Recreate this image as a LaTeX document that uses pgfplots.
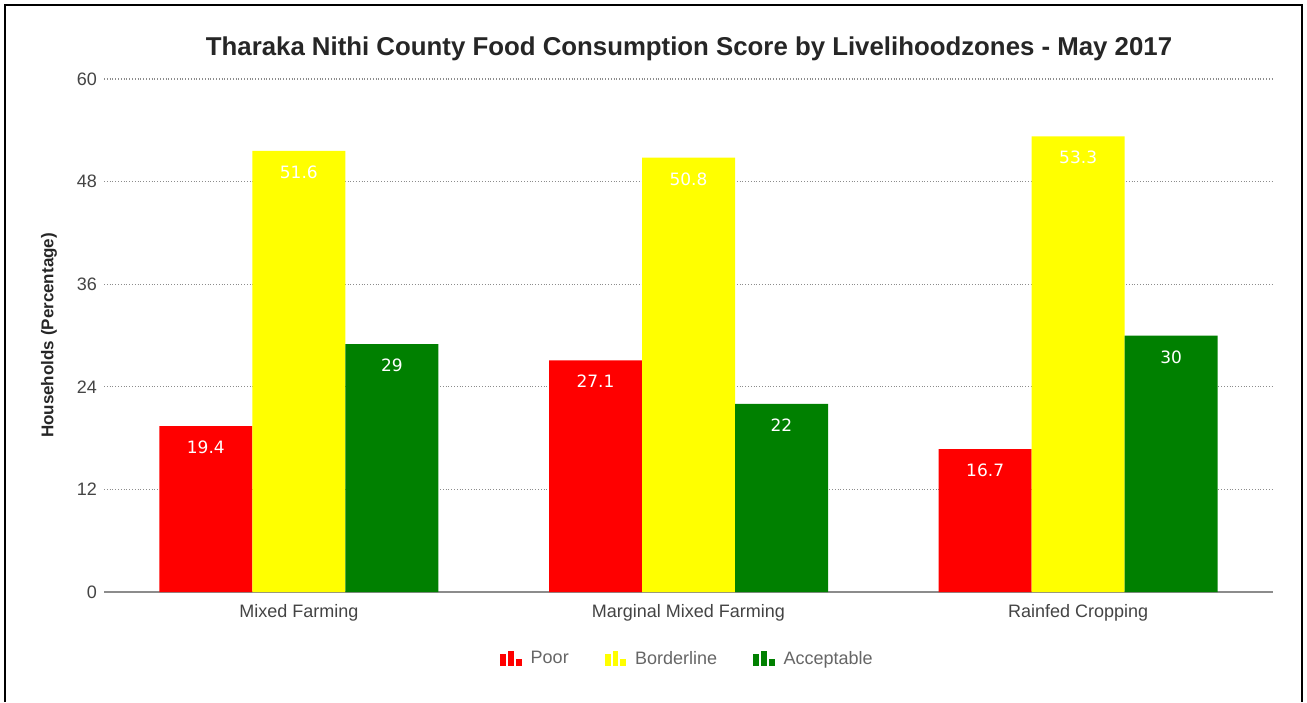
\documentclass[border=0pt]{standalone}
\usepackage{pgfplots}
\pgfplotsset{compat=1.18}
\usepackage{fontspec}
\setmainfont{Liberation Sans}
\newfontfamily\valfont{DejaVu Sans}
\definecolor{poorc}{HTML}{FF0000}
\definecolor{bordc}{HTML}{FFFF00}
\definecolor{accc}{HTML}{008000}
\definecolor{txtc}{HTML}{444444}
\definecolor{legc}{HTML}{666666}
\begin{document}
\begin{tikzpicture}
\useasboundingbox (0,0) rectangle (653.5pt,351pt);
\fill[white] (0,0) rectangle (653.5pt,351pt);
\draw[black, line width=1pt] (2.5pt,0) -- (2.5pt,348.5pt) -- (651pt,348.5pt) -- (651pt,0);
\node[font=\fontsize{12.9}{14}\selectfont\bfseries, text=black!85] at (344.5pt,326.5pt) {Tharaka Nithi County Food Consumption Score by Livelihoodzones - May 2017};
\begin{axis}[
  at={(52pt,55pt)}, anchor=south west,
  scale only axis, width=584.5pt, height=256.5pt,
  xmin=-0.5, xmax=2.5, ymin=0, ymax=60,
  enlarge x limits=false, enlarge y limits=false,
  ybar=0pt, bar width=46.5pt,
  xtick={0,1,2},
  xticklabels={Mixed Farming, Marginal Mixed Farming, Rainfed Cropping},
  ytick={0,12,24,36,48,60},
  major tick length=0pt,
  axis x line*=bottom, axis y line*=left,
  x axis line style={draw=black!45, line width=0.6pt, -},
  y axis line style={draw=none},
  ymajorgrids, grid style={densely dotted, black!45, line width=0.6pt},
  tick label style={font=\fontsize{9}{10}\selectfont, text=txtc},
  xticklabel style={yshift=-2.5pt},
  /pgf/number format/assume math mode=true,
  ylabel={Households (Percentage)},
  ylabel style={font=\fontsize{8.5}{10}\selectfont\bfseries, text=black!85, at={(axis description cs:-0.047,0.5)}, anchor=center},
  nodes near coords,
  nodes near coords style={font=\valfont\fontsize{8.5}{10}\selectfont, text=white, anchor=north, yshift=-4pt},
  point meta=explicit symbolic,
  legend columns=3,
  legend style={at={(axis description cs:0.5,-0.1306)}, anchor=center, draw=none, fill=none,
    font=\fontsize{9}{10}\selectfont, text=legc,
    /tikz/every odd column/.append style={column sep=2.5pt},
    /tikz/every even column/.append style={column sep=16pt}},
  legend image code/.code={
    \fill[#1,draw=none] (0pt,-3.5pt) rectangle (2.9pt,2.5pt);
    \fill[#1,draw=none] (3.9pt,-3.5pt) rectangle (6.8pt,4pt);
    \fill[#1,draw=none] (7.8pt,-3.5pt) rectangle (10.7pt,0pt);
  },
]
\addplot[fill=poorc, draw=none] coordinates {(0,19.4)[19.4] (1,27.1)[27.1] (2,16.7)[16.7]};
\addplot[fill=bordc, draw=none] coordinates {(0,51.6)[51.6] (1,50.8)[50.8] (2,53.3)[53.3]};
\addplot[fill=accc, draw=none] coordinates {(0,29)[29] (1,22)[22] (2,30)[30]};
\legend{Poor, Borderline, Acceptable}
\end{axis}
\end{tikzpicture}
\end{document}
